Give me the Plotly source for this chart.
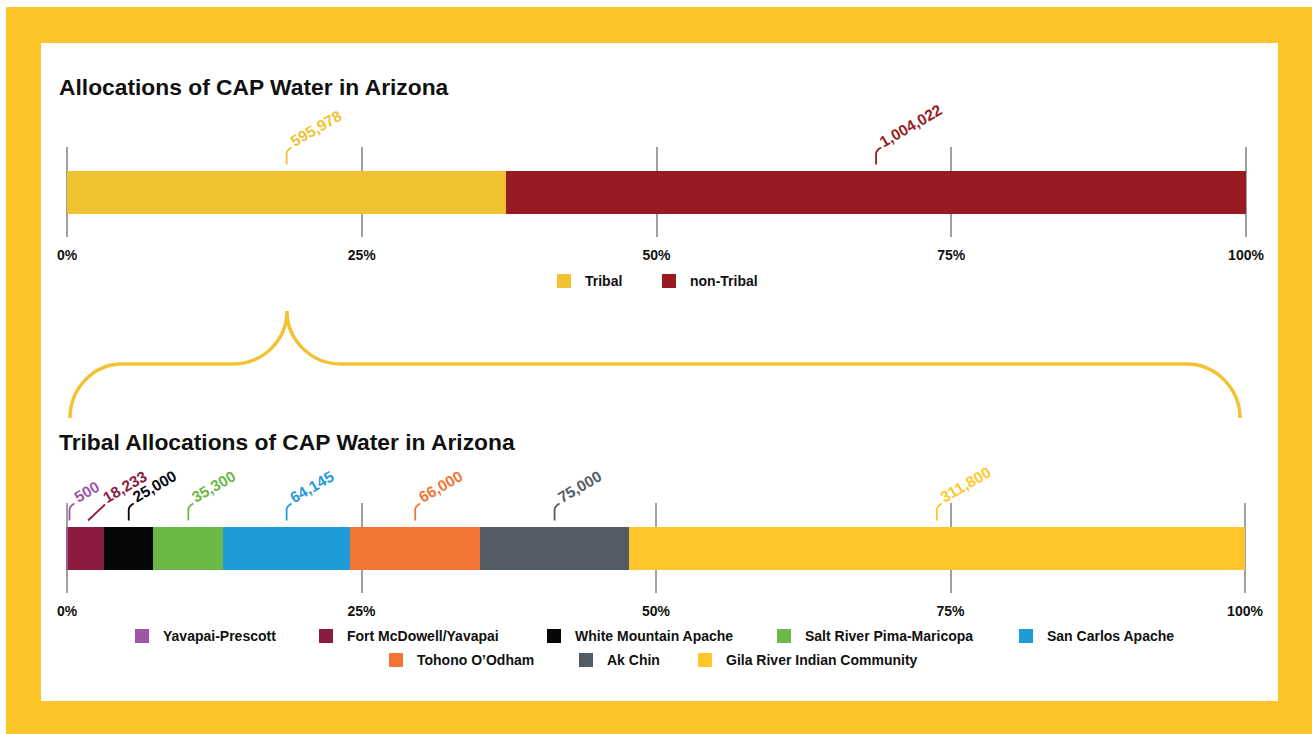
import numpy as np
import plotly.graph_objects as go

W, H = 1312, 734

# ---------------- data ----------------
top_categories = ["Tribal", "non-Tribal"]
top_values = [595978, 1004022]
top_colors = ["#F0C232", "#971B20"]

tribe_names = [
    "Yavapai-Prescott",
    "Fort McDowell/Yavapai",
    "White Mountain Apache",
    "Salt River Pima-Maricopa",
    "San Carlos Apache",
    "Tohono O’Odham",
    "Ak Chin",
    "Gila River Indian Community",
]
tribe_values = [500, 18233, 25000, 35300, 64145, 66000, 75000, 311800]
tribe_colors = ["#A155A6", "#8C1C3F", "#050709", "#6CB845",
                "#1F9CD8", "#F37433", "#535B65", "#FEC62A"]

tick_values = [0, 25, 50, 75, 100]
tick_text = ["0%", "25%", "50%", "75%", "100%"]

title_top = "Allocations of CAP Water in Arizona"
title_bottom = "Tribal Allocations of CAP Water in Arizona"

# ---------------- layout helpers ----------------
FONT = "Liberation Sans, Arial, Helvetica, sans-serif"
FRAME = "#FDC52A"
BRACE = "#F2C232"
GRID = "#A0A0A0"


def px(x):
    return x / W


def py(y):
    return 1 - y / H


PAD = 0.5          # axis range padding (percent units) so edge gridlines show
BAR_W = 0.9556     # bar thickness in y units (y range -1..1)
BAR_TOP = BAR_W / 2


def x_domain(p0, p100):
    k = (p100 - p0) / 100.0
    return [px(p0 - PAD * k), px(p100 + PAD * k)]


fig = go.Figure()

for name, val, col in zip(top_categories, top_values, top_colors):
    fig.add_trace(go.Bar(
        x=[val], y=[0], orientation="h", name=name, width=BAR_W,
        marker=dict(color=col, line=dict(width=0)),
        xaxis="x", yaxis="y", showlegend=False, hoverinfo="name+x",
    ))

for name, val, col in zip(tribe_names, tribe_values, tribe_colors):
    fig.add_trace(go.Bar(
        x=[val], y=[0], orientation="h", name=name, width=BAR_W,
        marker=dict(color=col, line=dict(width=0)),
        xaxis="x2", yaxis="y2", showlegend=False, hoverinfo="name+x",
    ))

axis_common = dict(
    range=[-PAD, 100 + PAD], tickvals=tick_values, ticktext=tick_text,
    showgrid=True, gridcolor=GRID, gridwidth=2, zeroline=False,
    showline=False, ticks="", ticklabelstandoff=8,
    tickfont=dict(family=FONT, size=14, color="#111111", weight=700),
    fixedrange=True, automargin=False,
)
yaxis_common = dict(range=[-1, 1], visible=False, fixedrange=True, automargin=False)

fig.update_layout(
    width=W, height=H, autosize=False,
    margin=dict(l=0, r=0, t=0, b=0, pad=0, autoexpand=False),
    paper_bgcolor="white", plot_bgcolor="rgba(0,0,0,0)",
    barmode="stack", barnorm="percent", bargap=0,
    showlegend=False,
    xaxis=dict(domain=x_domain(67, 1246), anchor="y", **axis_common),
    yaxis=dict(domain=[py(237), py(147)], anchor="x", **yaxis_common),
    xaxis2=dict(domain=x_domain(67, 1245), anchor="y2", **axis_common),
    yaxis2=dict(domain=[py(593), py(503)], anchor="x2", **yaxis_common),
)

shapes = []
annotations = []

# frame
shapes.append(dict(type="rect", xref="paper", yref="paper", layer="below",
                   x0=px(6), x1=px(W), y0=py(7), y1=py(H),
                   fillcolor=FRAME, line=dict(width=0)))
shapes.append(dict(type="rect", xref="paper", yref="paper", layer="below",
                   x0=px(41), x1=px(1278), y0=py(43), y1=py(701),
                   fillcolor="white", line=dict(width=0)))


# brace linking the tribal share to the lower chart
def P(x, y):
    return f"{px(x):.5f},{py(y):.5f}"


brace = (f"M{P(70, 418)} C{P(70, 389)} {P(93, 364)} {P(122, 364)} "
         f"L{P(233, 364)} C{P(263, 364)} {P(287, 340)} {P(287, 311)} "
         f"C{P(287, 340)} {P(311, 364)} {P(341, 364)} "
         f"L{P(1187, 364)} C{P(1216, 364)} {P(1240, 389)} {P(1240, 418)}")
shapes.append(dict(type="path", xref="paper", yref="paper", path=brace,
                   line=dict(color=BRACE, width=3.5), layer="above"))

# titles
for txt, yy in ((title_top, 87), (title_bottom, 442)):
    annotations.append(dict(text=txt, xref="paper", yref="paper",
                            x=px(57), y=py(yy), xanchor="left", yanchor="middle",
                            showarrow=False,
                            font=dict(family=FONT, size=22.8, color="#111111", weight=700)))

# value labels with leader lines
STD_LEADER = "M0,6 L0,17 Q0,20 5,23"
SPECIAL = {
    "18,233": ("M2,6 L19,22", 13.5),
    "500": ("M2,6 L2,17 Q2,20 7,23", 3.5),
}


def add_labels(values, colors, xref, yref):
    vals = np.array(values, dtype=float)
    total = vals.sum()
    centers = (np.cumsum(vals) - vals / 2) / total * 100
    for v, c, col in zip(vals, centers, colors):
        txt = f"{int(v):,}"
        path, nudge = SPECIAL.get(txt, (STD_LEADER, 0))
        shapes.append(dict(type="path", xref=xref, yref=yref,
                           xsizemode="pixel", ysizemode="pixel",
                           xanchor=float(c), yanchor=BAR_TOP, path=path,
                           line=dict(color=col, width=1.8), layer="above"))
        annotations.append(dict(text=txt, xref=xref, yref=yref,
                                x=float(c), y=BAR_TOP, xanchor="left", yanchor="bottom",
                                xshift=-2 + nudge, yshift=18, textangle=-30,
                                showarrow=False,
                                font=dict(family=FONT, size=15.5, color=col, weight=700)))


add_labels(top_values, top_colors, "x", "y")
add_labels(tribe_values, tribe_colors, "x2", "y2")


# legends (swatch left x, row center y)
def add_legend_item(name, color, sx, cy):
    shapes.append(dict(type="rect", xref="paper", yref="paper",
                       x0=px(sx), x1=px(sx + 14), y0=py(cy + 7), y1=py(cy - 7),
                       fillcolor=color, line=dict(width=0)))
    annotations.append(dict(text=name, xref="paper", yref="paper",
                            x=px(sx + 26), y=py(cy), xanchor="left", yanchor="middle",
                            showarrow=False,
                            font=dict(family=FONT, size=14, color="#111111", weight=700)))


top_legend_x = [557, 662]
for name, col, sx in zip(top_categories, top_colors, top_legend_x):
    add_legend_item(name, col, sx, 281)

bottom_legend_pos = [(135, 636), (319, 636), (547, 636), (777, 636), (1019, 636),
                     (389, 660), (579, 660), (698, 660)]
for name, col, (sx, cy) in zip(tribe_names, tribe_colors, bottom_legend_pos):
    add_legend_item(name, col, sx, cy)

fig.update_layout(shapes=shapes, annotations=annotations)

POST = """
var gd = document.getElementById('{plot_id}');
document.documentElement.style.margin='0';
document.documentElement.style.overflow='hidden';
document.body.style.margin='0';
document.body.style.overflow='hidden';
gd.style.position='fixed'; gd.style.left='0px'; gd.style.top='0px';
"""

fig.write_html(
    "out.html",
    config={"displayModeBar": False, "responsive": False},
    post_script=POST,
)
